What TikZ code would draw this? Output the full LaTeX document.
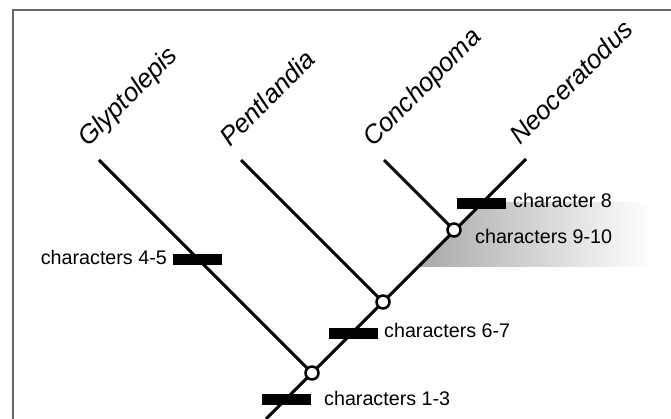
\documentclass[tikz,border=0pt]{standalone}
\usepackage{fontspec}
\setmainfont{Liberation Sans}
\begin{document}
\begin{tikzpicture}[x=1pt,y=-1pt,
  branch/.style={line width=3pt, black},
  frameline/.style={line width=2pt, draw=black!60},
  nodecirc/.style={circle, draw=black, line width=2.5pt, fill=white, minimum size=13pt, inner sep=0pt},
  charbar/.style={rectangle, fill=black, minimum width=49pt, minimum height=11pt, inner sep=0pt},
  charlabel/.style={font=\fontsize{19.7}{24}\selectfont, inner sep=0pt},
  taxon/.style={font=\fontsize{26}{30}\selectfont\itshape, rotate=45, anchor=base west, inner sep=0pt}]
\useasboundingbox (0,0) rectangle (671,419);
% frame
\coordinate (fbl) at (13,419);
\coordinate (ftl) at (13,10);
\coordinate (ftr) at (671,10);
\draw[frameline] (fbl) -- (ftl) -- (ftr);
% shading
\coordinate (sA) at (482,202);
\coordinate (sB) at (652,202);
\coordinate (sC) at (652,267);
\coordinate (sD) at (417,267);
\shade[left color=black!34, right color=white] (sA) -- (sB) -- (sC) -- (sD) -- cycle;
% coordinates
\coordinate (root) at (266,419);
\coordinate (tipN) at (526,159);
\coordinate (tipG) at (99,160);
\coordinate (tipP) at (241,160);
\coordinate (tipC) at (384,160);
\coordinate (n1) at (312,373);
\coordinate (n2) at (383,302);
\coordinate (n3) at (454,230);
% branches
\draw[branch] (root) -- (tipN);
\draw[branch] (n1) -- (tipG);
\draw[branch] (n2) -- (tipP);
\draw[branch] (n3) -- (tipC);
% bars
\node[charbar] (b45) at (197.5,259.5) {};
\node[charbar] (b8) at (481.5,203.5) {};
\node[charbar] (b67) at (353.5,333) {};
\node[charbar] (b13) at (286,399) {};
% nodes
\node[nodecirc] (c1) at (n1) {};
\node[nodecirc] (c2) at (n2) {};
\node[nodecirc] (c3) at (n3) {};
% labels
\node[charlabel, anchor=base east] (l45) at (167,265) {characters 4-5};
\node[charlabel, anchor=base west] (l8) at (513,208) {character 8};
\node[charlabel, anchor=base west] (l910) at (475,244) {characters 9-10};
\node[charlabel, anchor=base west] (l67) at (384,337) {characters 6-7};
\node[charlabel, anchor=base west] (l13) at (324,405) {characters 1-3};
% taxa
\node[taxon] (tG) at ([shift={(-11,-12)}]tipG) {Glyptolepis};
\node[taxon] (tP) at ([shift={(-11,-12)}]tipP) {Pentlandia};
\node[taxon] (tC) at ([shift={(-11,-12)}]tipC) {Conchopoma};
\node[taxon] (tN) at ([shift={(-6,-13)}]tipN) {Neoceratodus};
\end{tikzpicture}
\end{document}
